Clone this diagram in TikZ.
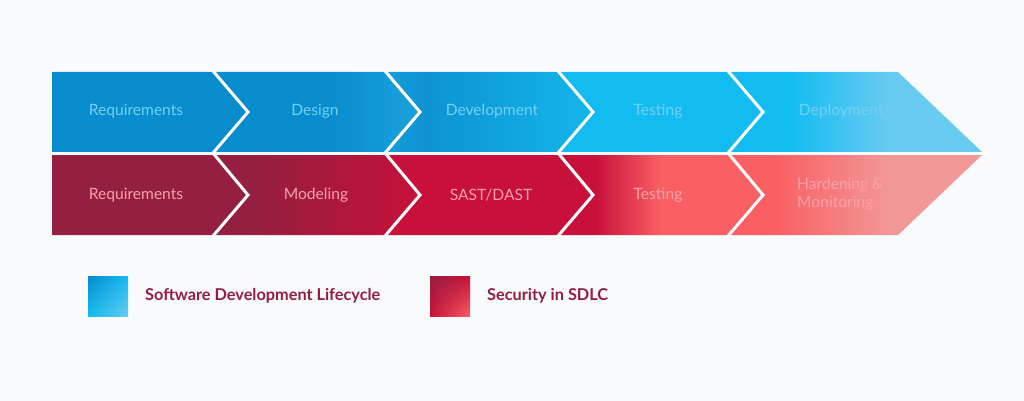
\documentclass[tikz,border=0pt]{standalone}
\usepackage{fontspec}
\setmainfont{Lato}
\usetikzlibrary{shadings}
\definecolor{pagebg}{HTML}{F9FAFB}
\definecolor{sdlcdark}{HTML}{078CCD}
\definecolor{sdlcmid}{HTML}{169DDA}
\definecolor{sdlcbright}{HTML}{13BCF0}
\definecolor{sdlclight}{HTML}{66CAF1}
\definecolor{secmaroon}{HTML}{951F40}
\definecolor{seccrimson}{HTML}{C8103A}
\definecolor{seccoral}{HTML}{F95F63}
\definecolor{secpink}{HTML}{F29897}
\definecolor{sdlctext}{HTML}{74D0F4}
\definecolor{sectext}{HTML}{F7A2A8}
\definecolor{legendtext}{HTML}{931E42}
% horizontal fades, the path box runs from 25bp to 75bp
\pgfdeclarehorizontalshading{designfade}{100bp}{color(0bp)=(sdlcdark); color(52bp)=(sdlcdark); color(70bp)=(sdlcmid); color(100bp)=(sdlcmid)}
\pgfdeclarehorizontalshading{devfade}{100bp}{color(0bp)=(sdlcmid); color(25bp)=(sdlcmid); color(35bp)=(sdlcdark!60!sdlcmid); color(75bp)=(sdlcbright!80!sdlcmid); color(100bp)=(sdlcbright)}
\pgfdeclarehorizontalshading{deployfade}{100bp}{color(0bp)=(sdlcbright); color(37bp)=(sdlcbright); color(56bp)=(sdlclight); color(100bp)=(sdlclight)}
\pgfdeclarehorizontalshading{modelfade}{100bp}{color(0bp)=(secmaroon); color(36bp)=(secmaroon); color(75bp)=(seccrimson); color(100bp)=(seccrimson)}
\pgfdeclarehorizontalshading{testfade}{100bp}{color(0bp)=(seccrimson); color(34bp)=(seccrimson); color(50bp)=(seccoral); color(100bp)=(seccoral)}
\pgfdeclarehorizontalshading{hardenfade}{100bp}{color(0bp)=(seccoral); color(34bp)=(seccoral); color(57bp)=(secpink); color(100bp)=(secpink)}
\begin{document}
\begin{tikzpicture}[x=1pt,y=-1pt,
    toplabel/.style={text=sdlctext,font=\fontsize{15.6}{18.5}\selectfont,inner sep=0pt},
    seclabel/.style={text=sectext,font=\fontsize{15.6}{18.5}\selectfont,inner sep=0pt},
    legendlabel/.style={text=legendtext,font=\fontsize{16.3}{19}\selectfont\bfseries,anchor=west,inner sep=0pt},
    gapline/.style={white,line width=3pt}]
    \fill[pagebg] (0,0) rectangle (1024,401);
    \useasboundingbox (0,0) rectangle (1024,401);
    % top band: lifecycle
    \fill[sdlcdark] (52,72)--(213,72)--(248,112)--(213,152)--(52,152)--cycle;
    \shade[shading=designfade] (213,72)--(385,72)--(420,112)--(385,152)--(213,152)--(248,112)--cycle;
    \shade[shading=devfade] (385,72)--(558,72)--(593,112)--(558,152)--(385,152)--(420,112)--cycle;
    \fill[sdlcbright] (558,72)--(728,72)--(763,112)--(728,152)--(558,152)--(593,112)--cycle;
    \shade[shading=deployfade] (728,72)--(898,72)--(982,152)--(728,152)--(763,112)--cycle;
    % bottom band: security
    \fill[secmaroon] (52,155)--(213,155)--(248,195)--(213,235)--(52,235)--cycle;
    \shade[shading=modelfade] (213,155)--(385,155)--(420,195)--(385,235)--(213,235)--(248,195)--cycle;
    \fill[seccrimson] (385,155)--(558,155)--(593,195)--(558,235)--(385,235)--(420,195)--cycle;
    \shade[shading=testfade] (558,155)--(728,155)--(763,195)--(728,235)--(558,235)--(593,195)--cycle;
    \shade[shading=hardenfade] (728,155)--(982,155)--(898,235)--(728,235)--(763,195)--cycle;
    % white chevron gaps
    \draw[gapline] (213,71)--(248,112)--(213,153)--(248,195)--(213,236);
    \draw[gapline] (385,71)--(420,112)--(385,153)--(420,195)--(385,236);
    \draw[gapline] (558,71)--(593,112)--(558,153)--(593,195)--(558,236);
    \draw[gapline] (728,71)--(763,112)--(728,153)--(763,195)--(728,236);
    \fill[white] (52,152) rectangle (990,155);
    % labels
    \node[toplabel] (req) at (136,111) {Requirements};
    \node[toplabel] (design) at (315,111) {Design};
    \node[toplabel] (dev) at (492,111) {Development};
    \node[toplabel] (test) at (658,111) {Testing};
    \node[toplabel] (deploy) at (841,111) {Deployment};
    \node[seclabel] (secreq) at (136,195) {Requirements};
    \node[seclabel] (model) at (316,195) {Modeling};
    \node[seclabel] (sast) at (491,195) {SAST/DAST};
    \node[seclabel] (sectest) at (658,195) {Testing};
    \node[seclabel,align=left,anchor=west] (harden) at (797,194) {Hardening \&\\Monitoring};
    % legend
    \shade[upper left=sdlcdark,upper right=sdlcbright,lower left=sdlcbright,lower right=sdlclight] (88,276) rectangle (128,316);
    \node[legendlabel] (sdlckey) at (145,296) {Software Development Lifecycle};
    \shade[upper left=secmaroon,upper right=seccrimson,lower left=seccrimson,lower right=seccoral] (430,276) rectangle (470,316);
    \node[legendlabel] (seckey) at (487,296) {Security in SDLC};
\end{tikzpicture}
\end{document}
